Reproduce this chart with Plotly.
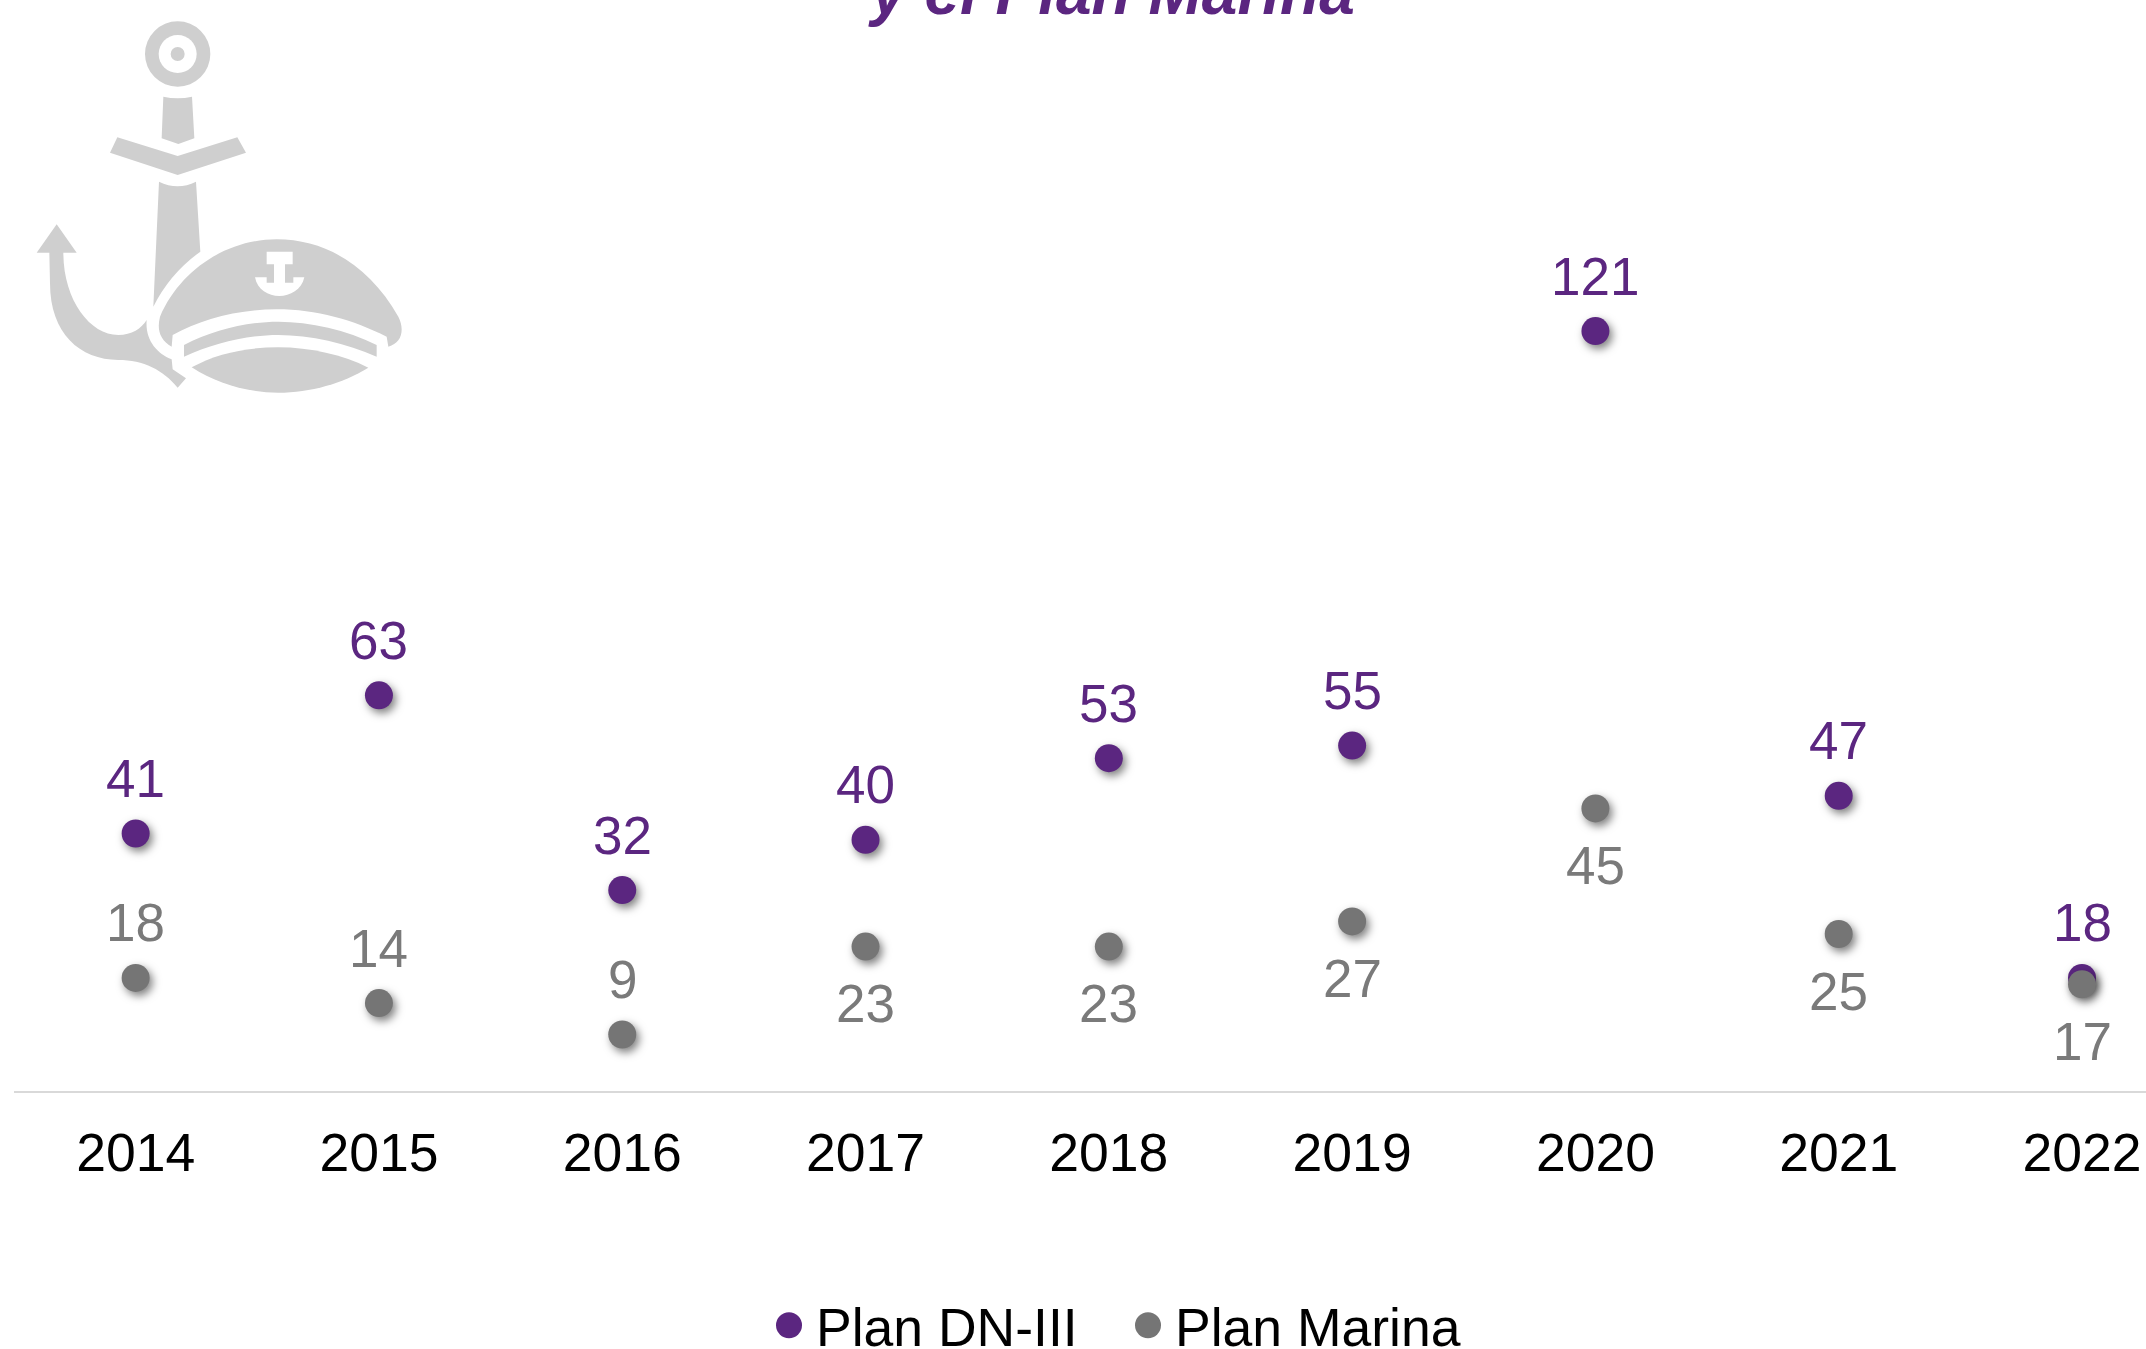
import re
import plotly.graph_objects as go

years = ["2014", "2015", "2016", "2017", "2018", "2019", "2020", "2021", "2022"]
dn3 = [41, 63, 32, 40, 53, 55, 121, 47, 18]
marina = [18, 14, 9, 23, 23, 27, 45, 25, 17]
marina_above = [True, True, True, False, False, False, False, False, False]

PURPLE = "#5B2680"
GREY = "#757575"
LABEL_GREY = "#7A7A7A"
ICON = "#CFCFCF"
FONT = "Liberation Sans, Arial, sans-serif"
W, H, AXIS_Y = 2146, 1349, 1091


def paper_path(d):
    """Icon outline given in 3x zoom pixels -> paper fractions."""

    def repl(m):
        x = float(m.group(1)) / 3 / W
        y = 1 - float(m.group(2)) / 3 / AXIS_Y
        return f"{x:.5f},{y:.5f}"

    return re.sub(r"(\d+\.?\d*),(\d+\.?\d*)", repl, d)


def circle(cx, cy, r, color):
    return dict(type="circle", xref="paper", yref="paper", layer="below",
                x0=(cx - r) / 3 / W, x1=(cx + r) / 3 / W,
                y0=1 - (cy + r) / 3 / AXIS_Y, y1=1 - (cy - r) / 3 / AXIS_Y,
                fillcolor=color, line=dict(width=0))


icon_paths = [
    "M490,290 Q533,300 576,290 L583,415 L535,432 L485,415 Z",
    "M352,412 L533,468 L712,412 L738,458 L533,525 L330,458 Z",
    "M477,545 Q533,572 588,545 L601,755 Q510,820 460,920 Z",
    "M170,673 L230,758 L190,758 C190,900 270,1005 355,1005 C395,1005 425,985 440,960 "
    "C435,1020 470,1060 515,1078 L518,1108 L558,1135 L533,1163 C490,1110 430,1080 355,1080 "
    "C240,1080 150,1000 150,850 L148,758 L110,758 Z",
    "M515,1040 C480,1020 470,990 480,950 C540,810 680,718 830,718 C980,718 1110,800 1195,950 "
    "C1215,990 1205,1030 1165,1040 L1160,1010 C1060,960 950,928 830,928 C710,928 600,960 518,1005 Z",
    "M552,1035 C640,990 740,965 835,965 C930,965 1040,990 1130,1035 L1130,1070 "
    "C1040,1030 930,1005 835,1005 C740,1005 640,1030 552,1070 Z",
    "M575,1102 C650,1060 740,1042 835,1042 C930,1042 1030,1065 1105,1103 "
    "C1030,1150 930,1178 835,1178 C740,1178 650,1150 575,1102 Z",
]
cap_badge = ("M800,755 L878,755 L878,793 L855,793 L855,848 L880,848 L880,832 L913,832 "
             "C905,870 870,888 838,888 C805,888 772,870 765,832 L800,832 L800,848 L822,848 "
             "L822,793 L800,793 Z")

shapes = [circle(533, 162, 98, ICON), circle(533, 162, 57, "white"), circle(533, 162, 21, ICON)]
for p in icon_paths:
    shapes.append(dict(type="path", xref="paper", yref="paper", layer="below",
                       path=paper_path(p), fillcolor=ICON, line=dict(width=0)))
shapes.append(dict(type="path", xref="paper", yref="paper", layer="below",
                   path=paper_path(cap_badge), fillcolor="white", line=dict(width=0)))

fig = go.Figure()
fig.add_trace(go.Scatter(x=years, y=dn3, name="Plan DN-III", mode="markers",
                         cliponaxis=False,
                         marker=dict(color=PURPLE, size=28), hoverinfo="x+y"))
fig.add_trace(go.Scatter(x=years, y=marina, name="Plan Marina", mode="markers",
                         cliponaxis=False,
                         marker=dict(color=GREY, size=28), hoverinfo="x+y"))

annotations = []
for i, v in enumerate(dn3):
    annotations.append(dict(x=i, y=v, xref="x", yref="y", text=str(v), showarrow=False,
                            yanchor="middle", yshift=55,
                            font=dict(family=FONT, size=53, color=PURPLE)))
for i, (v, above) in enumerate(zip(marina, marina_above)):
    annotations.append(dict(x=i, y=v, xref="x", yref="y", text=str(v), showarrow=False,
                            yanchor="middle", yshift=55 if above else -57,
                            font=dict(family=FONT, size=53, color=LABEL_GREY)))
annotations.append(dict(x=1111 / W, y=1, xref="paper", yref="paper", yanchor="bottom",
                        yshift=-30, showarrow=False,
                        text="<b><i>y el Plan Marina</i></b>",
                        font=dict(family=FONT, size=64, color=PURPLE)))

fig.update_layout(
    width=W, height=H, margin=dict(l=0, r=0, t=0, b=H - AXIS_Y, pad=0, autoexpand=False),
    paper_bgcolor="white", plot_bgcolor="white",
    shapes=shapes, annotations=annotations,
    font=dict(family=FONT, color="black"),
    showlegend=True,
    legend=dict(orientation="h", x=762 / W, xanchor="left", y=1 - 1284 / AXIS_Y, yanchor="top",
                font=dict(family=FONT, size=53.5, color="black"),
                itemwidth=44, itemsizing="trace", entrywidth=300, entrywidthmode="pixels",
                bgcolor="rgba(0,0,0,0)", traceorder="normal"),
    xaxis=dict(type="category", domain=[14 / W, 1], range=[-0.5, 8.263],
               showgrid=False, zeroline=False, showline=True, linecolor="#D9D9D9", linewidth=2,
               ticks="", ticklabelstandoff=14,
               tickfont=dict(family=FONT, size=53.5, color="black")),
    yaxis=dict(range=[0, AXIS_Y / 6.28], showticklabels=False, showline=False, ticks="",
               showgrid=False, zeroline=False),
)

post = """
document.body.style.margin = '0';
document.querySelectorAll('.scatterlayer .point').forEach(function (p) {
  p.style.filter = 'drop-shadow(3px 4px 4px rgba(0,0,0,0.5))';
});
document.querySelectorAll('.legendpoints path.scatterpts').forEach(function (p) {
  p.setAttribute('d', 'M13,0A13,13 0 1,1 0,-13A13,13 0 0,1 13,0Z');
});
"""
fig.write_html("out.html", post_script=post, config=dict(displayModeBar=False))
